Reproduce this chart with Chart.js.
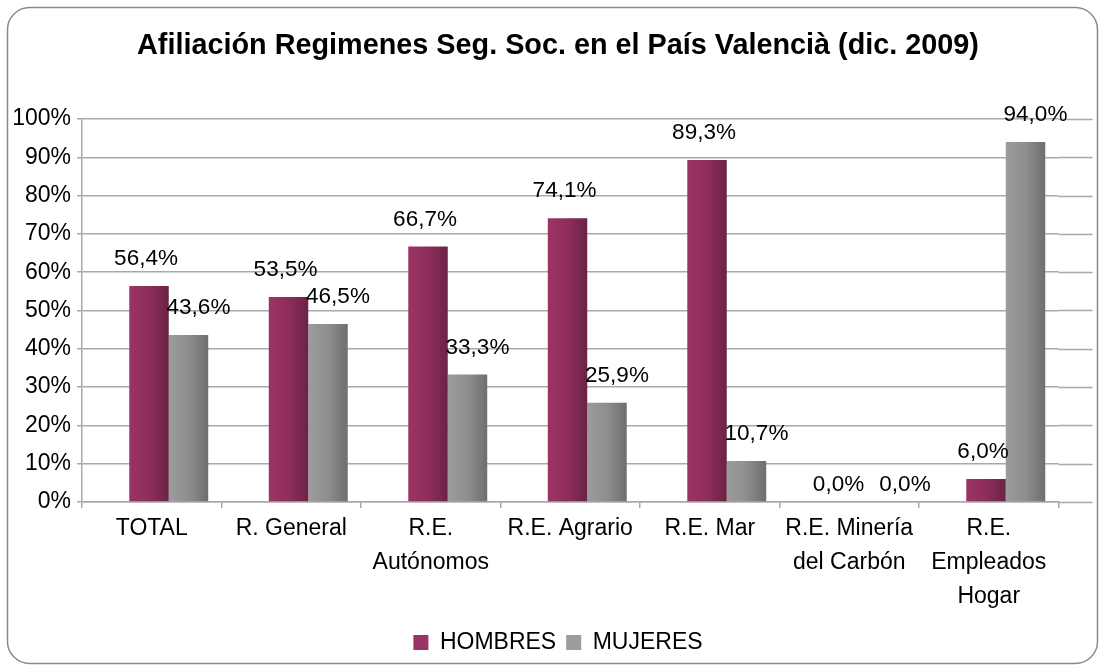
<!DOCTYPE html>
<html>
<head>
<meta charset="utf-8">
<script src="https://cdn.jsdelivr.net/npm/chart.js@4.4.1/dist/chart.umd.min.js"></script>
<style>
  html, body { margin: 0; padding: 0; background: #ffffff; }
  #wrap { position: relative; width: 1104px; height: 671px; }
  canvas { display: block; }
</style>
</head>
<body>
<div id="wrap"><canvas id="c" width="1104" height="671"></canvas></div>
<script>
const titleText = 'Afiliación Regimenes Seg. Soc. en el País Valencià (dic. 2009)';
const categories = [
  'TOTAL',
  'R. General',
  ['R.E.', 'Autónomos'],
  'R.E. Agrario',
  'R.E. Mar',
  ['R.E. Minería', 'del Carbón'],
  ['R.E.', 'Empleados', 'Hogar']
];
const seriesNames = ['HOMBRES', 'MUJERES'];
const hombres = [56.4, 53.5, 66.7, 74.1, 89.3, 0.0, 6.0];
const mujeres = [43.6, 46.5, 33.3, 25.9, 10.7, 0.0, 94.0];
const yTicks = [0, 10, 20, 30, 40, 50, 60, 70, 80, 90, 100];

const FONT = "'Liberation Sans', Arial, sans-serif";
const SHIFT = 17;          // pseudo-3D horizontal offset of the bars
const GRID_EXT = 34;       // gridlines extend past the last category
const gridColor = '#a9a9a9';

const colorStops = {
  0: ['#9b3466', '#8e2d5b', '#6a2445'],
  1: ['#9c9c9c', '#8e8e8e', '#6e6e6e']
};

function barGradient(context) {
  const chart = context.chart;
  const stops = colorStops[context.datasetIndex];
  if (!chart.chartArea || !chart.scales.x) return stops[1];
  const x = chart.scales.x;
  const cx = x.getPixelForValue(context.dataIndex);
  const catW = x.width / categories.length;
  const bw = catW * 0.566 / 2;
  const left = context.datasetIndex === 0 ? cx - bw : cx;
  const g = chart.ctx.createLinearGradient(left, 0, left + bw, 0);
  g.addColorStop(0, stops[0]);
  g.addColorStop(0.5, stops[1]);
  g.addColorStop(1, stops[2]);
  return g;
}

const fmt = v => v.toFixed(1).replace('.', ',') + '%';

const framePlugin = {
  id: 'frame',
  beforeDraw(chart) {
    const ctx = chart.ctx;
    ctx.save();
    ctx.strokeStyle = '#8a8a8a';
    ctx.lineWidth = 1.5;
    const x = 7.5, y = 7.5, w = 1090, h = 656, r = 22;
    ctx.beginPath();
    ctx.moveTo(x + r, y);
    ctx.lineTo(x + w - r, y);
    ctx.arcTo(x + w, y, x + w, y + r, r);
    ctx.lineTo(x + w, y + h - r);
    ctx.arcTo(x + w, y + h, x + w - r, y + h, r);
    ctx.lineTo(x + r, y + h);
    ctx.arcTo(x, y + h, x, y + h - r, r);
    ctx.lineTo(x, y + r);
    ctx.arcTo(x, y, x + r, y, r);
    ctx.closePath();
    ctx.stroke();
    ctx.restore();
  },
  beforeDatasetsDraw(chart) {
    const ctx = chart.ctx;
    const y = chart.scales.y;
    const a = chart.chartArea;
    ctx.save();
    ctx.strokeStyle = gridColor;
    ctx.lineWidth = 1.5;
    y.ticks.forEach(t => {
      const py = Math.round(y.getPixelForValue(t.value)) + 0.5;
      ctx.beginPath();
      ctx.moveTo(a.right, py);
      ctx.lineTo(a.right + GRID_EXT, py);
      ctx.stroke();
    });
    ctx.restore();
    ctx.save();
    ctx.translate(SHIFT, 0);
  },
  afterDatasetsDraw(chart) {
    const ctx = chart.ctx;
    ctx.restore();
    ctx.save();
    ctx.font = '22.5px ' + FONT;
    ctx.fillStyle = '#000000';
    ctx.textAlign = 'center';
    ctx.textBaseline = 'middle';
    chart.data.datasets.forEach((ds, di) => {
      const meta = chart.getDatasetMeta(di);
      meta.data.forEach((bar, i) => {
        const v = ds.data[i];
        const zero = v === 0;
        const off = zero ? 17 : 27;
        const dx = di === 1 ? (zero ? 19 : 10) : (zero ? -8 : -3);
        ctx.fillText(fmt(v), bar.x + SHIFT + dx, bar.y - off);
      });
    });
    ctx.restore();
  }
};

new Chart(document.getElementById('c'), {
  type: 'bar',
  data: {
    labels: categories,
    datasets: [
      { label: seriesNames[0], data: hombres, backgroundColor: barGradient, borderWidth: 0 },
      { label: seriesNames[1], data: mujeres, backgroundColor: barGradient, borderWidth: 0 }
    ]
  },
  options: {
    responsive: false,
    animation: false,
    devicePixelRatio: 1,
    datasets: { bar: { categoryPercentage: 0.566, barPercentage: 1.0 } },
    layout: { padding: { top: 11, left: 12, right: 0, bottom: 7 } },
    plugins: {
      title: {
        display: true,
        text: titleText,
        color: '#000000',
        font: { family: FONT, size: 28.8, weight: 'bold', lineHeight: 1.2 },
        padding: { top: 17.7, bottom: 55.7 }
      },
      legend: {
        display: true,
        position: 'bottom',
        labels: {
          color: '#000000',
          font: { family: FONT, size: 23 },
          boxWidth: 15,
          boxHeight: 15,
          padding: 10,
          generateLabels(chart) {
            return seriesNames.map((n, i) => ({
              text: n,
              fillStyle: colorStops[i][0],
              strokeStyle: colorStops[i][0],
              lineWidth: 0,
              hidden: false,
              datasetIndex: i
            }));
          }
        }
      },
      tooltip: { enabled: false }
    },
    scales: {
      x: {
        offset: true,
        grid: {
          display: true,
          offset: true,
          drawOnChartArea: false,
          drawTicks: true,
          tickLength: 6,
          color: gridColor,
          lineWidth: 1.5
        },
        border: { display: true, color: gridColor, width: 1.5 },
        ticks: {
          color: '#000000',
          font: { family: FONT, size: 23, lineHeight: 1.47 },
          padding: 4,
          maxRotation: 0,
          autoSkip: false
        },
        afterFit(scale) { scale.height = 119; }
      },
      y: {
        min: 0,
        max: 100,
        afterBuildTicks(scale) { scale.ticks = yTicks.map(v => ({ value: v })); },
        grid: {
          display: true,
          color: gridColor,
          lineWidth: 1.5,
          drawTicks: true,
          tickLength: 5
        },
        border: { display: true, color: gridColor, width: 1.5 },
        ticks: {
          color: '#000000',
          font: { family: FONT, size: 23 },
          padding: 6,
          callback: v => v + '%'
        },
        afterFit(scale) { scale.width = 70; }
      },
      yRight: {
        position: 'right',
        min: 0,
        max: 100,
        grid: { display: false, drawTicks: false },
        border: { display: false },
        ticks: { display: false },
        afterFit(scale) { scale.width = 45.5; }
      }
    }
  },
  plugins: [framePlugin]
});
</script>
</body>
</html>
